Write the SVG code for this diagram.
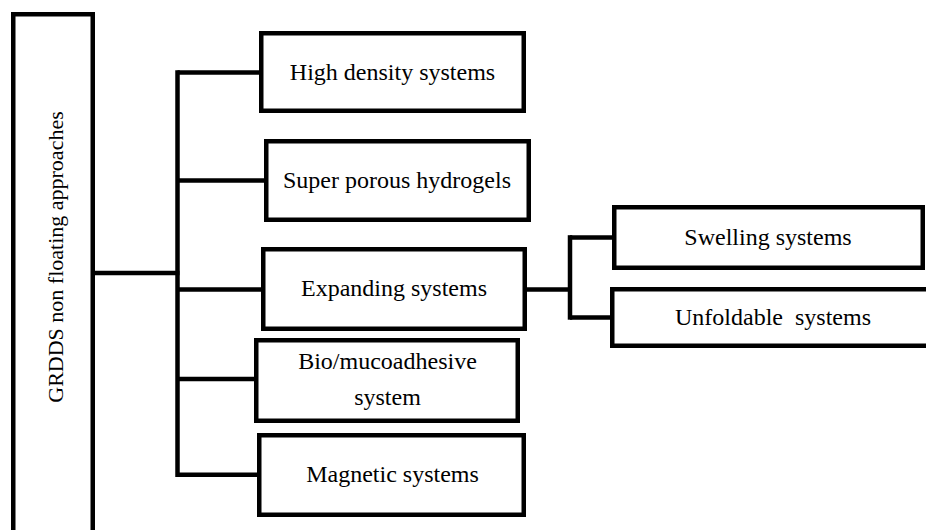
<svg xmlns="http://www.w3.org/2000/svg" width="926" height="530" viewBox="0 0 926 530">
<style>
.box{fill:#fff;stroke:#000;stroke-width:4.5}
.ln{fill:none;stroke:#000;stroke-width:4.5}
.t{font-family:'Liberation Serif','Times New Roman',serif;font-size:24px;fill:#000;text-anchor:middle}
</style>
<rect width="926" height="530" fill="#fff"/>
<g id="connectors">
<path class="ln" d="M93 273 H179.5"/>
<path class="ln" d="M177.5 70.2 V477"/>
<path class="ln" d="M177.5 72.5 H261"/>
<path class="ln" d="M177.5 180.5 H266"/>
<path class="ln" d="M177.5 289.5 H263"/>
<path class="ln" d="M177.5 379 H256"/>
<path class="ln" d="M177.5 474.7 H259"/>
<path class="ln" d="M525 289.5 H570"/>
<path class="ln" d="M570 235.2 V319.7"/>
<path class="ln" d="M570 237.5 H614"/>
<path class="ln" d="M570 317.5 H612"/>
</g>
<g id="root">
<rect class="box" x="13.25" y="14.25" width="79.5" height="530"/>
<text class="t" transform="translate(63 257) rotate(-90)" style="font-size:22px">GRDDS non floating approaches</text>
</g>
<g id="high-density">
<rect class="box" x="261.25" y="33.25" width="262.5" height="77.5"/>
<text class="t" x="392.5" y="80">High density systems</text>
</g>
<g id="super-porous">
<rect class="box" x="266.25" y="141.25" width="262.5" height="78.5"/>
<text class="t" x="397" y="188">Super porous hydrogels</text>
</g>
<g id="expanding">
<rect class="box" x="263.25" y="249.25" width="261.5" height="79.5"/>
<text class="t" x="394" y="296">Expanding systems</text>
</g>
<g id="bio">
<rect class="box" x="256.25" y="340.25" width="261.5" height="80.5"/>
<text class="t" x="387.5" y="369">Bio/mucoadhesive</text>
<text class="t" x="387.5" y="405">system</text>
</g>
<g id="magnetic">
<rect class="box" x="259.25" y="435.25" width="264.5" height="79.5"/>
<text class="t" x="392.5" y="482">Magnetic systems</text>
</g>
<g id="swelling">
<rect class="box" x="614.25" y="207.25" width="308.5" height="60.5"/>
<text class="t" x="768" y="245">Swelling systems</text>
</g>
<g id="unfoldable">
<rect class="box" x="612.25" y="289.25" width="330" height="56.5"/>
<text class="t" x="773" y="325" xml:space="preserve" style="white-space:pre">Unfoldable  systems</text>
</g>
</svg>
